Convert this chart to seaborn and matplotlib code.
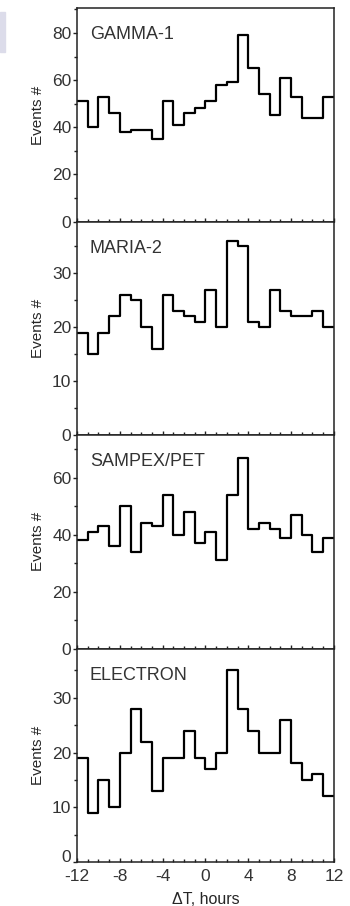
import numpy as np
import pandas as pd
import seaborn as sns
import matplotlib.pyplot as plt
from matplotlib.ticker import MultipleLocator, FuncFormatter
from matplotlib.patches import Rectangle

# hourly bin edges, -12 .. 12
edges = list(range(-12, 13))
centers = [e + 0.5 for e in edges[:-1]]

gamma = [51, 40, 53, 46, 38, 39, 39, 35, 51, 41, 46, 48,
         51, 58, 59, 79, 65, 54, 45, 61, 53, 44, 44, 53]
maria = [19, 15, 19, 22, 26, 25, 20, 16, 26, 23, 22, 21,
         27, 20, 36, 35, 21, 20, 27, 23, 22, 22, 23, 20]
sampex = [38, 41, 43, 36, 50, 34, 44, 43, 54, 40, 48, 37,
          41, 31, 54, 67, 42, 44, 42, 39, 47, 40, 34, 39]
electron = [19, 9, 15, 10, 20, 28, 22, 13, 19, 19, 24, 19,
            17, 20, 35, 28, 24, 20, 20, 26, 18, 15, 16, 12]

names = ["GAMMA-1", "MARIA-2", "SAMPEX/PET", "ELECTRON"]
series = [gamma, maria, sampex, electron]
ylims = [90.5, 39.6, 75, 39]
major = [20, 10, 20, 10]

sns.set_style("ticks")
plt.rcParams['font.family'] = ['Liberation Sans', 'DejaVu Sans']
plt.rcParams['axes.unicode_minus'] = False
plt.rcParams['text.color'] = '#333333'
plt.rcParams['xtick.color'] = '#222222'
plt.rcParams['ytick.color'] = '#222222'
plt.rcParams['xtick.labelcolor'] = '#333333'
plt.rcParams['ytick.labelcolor'] = '#333333'

fig, axes = plt.subplots(4, 1, figsize=(3.5, 9.06), dpi=100, sharex=True)
fig.subplots_adjust(left=0.22, right=0.954, top=0.991, bottom=0.0486, hspace=0)

# small grey patch at top left of the scan
fig.patches.append(Rectangle((0, 1 - 52 / 906), 5 / 350, 40 / 906,
                             transform=fig.transFigure, color='#dcdcea', zorder=0))

for ax, name, vals, ym, mj in zip(axes, names, series, ylims, major):
    df = pd.DataFrame({'dt': centers, 'n': vals})
    sns.histplot(data=df, x='dt', weights='n', bins=edges, element='step',
                 fill=False, color='black', linewidth=1.6, ax=ax)
    ax.set_xlim(-12, 12)
    ax.set_ylim(0, ym)
    ax.yaxis.set_major_locator(MultipleLocator(mj))
    ax.yaxis.set_minor_locator(MultipleLocator(mj / 2))
    ax.xaxis.set_major_locator(MultipleLocator(4))
    ax.xaxis.set_minor_locator(MultipleLocator(1))
    ax.tick_params(axis='y', which='major', direction='out', length=3, width=1,
                   labelsize=12.5, pad=1)
    ax.tick_params(axis='y', which='minor', direction='out', length=2, width=1)
    ax.tick_params(axis='x', which='major', direction='in', length=3, width=1,
                   labelsize=12.5, pad=5)
    ax.tick_params(axis='x', which='minor', direction='in', length=2, width=1)
    for s in ax.spines.values():
        s.set_linewidth(1.1)
        s.set_color('#222222')
    ax.set_ylabel('Events #', fontsize=11, labelpad=5)
    ax.set_xlabel('')
    ax.text(0.05, 0.915, name, transform=ax.transAxes, fontsize=13,
            va='top', ha='left', color='#333333')

axes[-1].set_xlabel('\u0394T, hours', fontsize=11.5, labelpad=6)

# bottom "0" sits a little above the -12 label, as in the scan
last = axes[-1]
last.yaxis.set_major_formatter(FuncFormatter(lambda v, p: '' if v == 0 else f'{v:g}'))
last.annotate('0', xy=(0, 0), xycoords=('axes fraction', 'data'),
              xytext=(-4, 3.5), textcoords='offset points',
              ha='right', va='center', fontsize=12.5, color='#333333')

fig.savefig('out.png', dpi=100)
